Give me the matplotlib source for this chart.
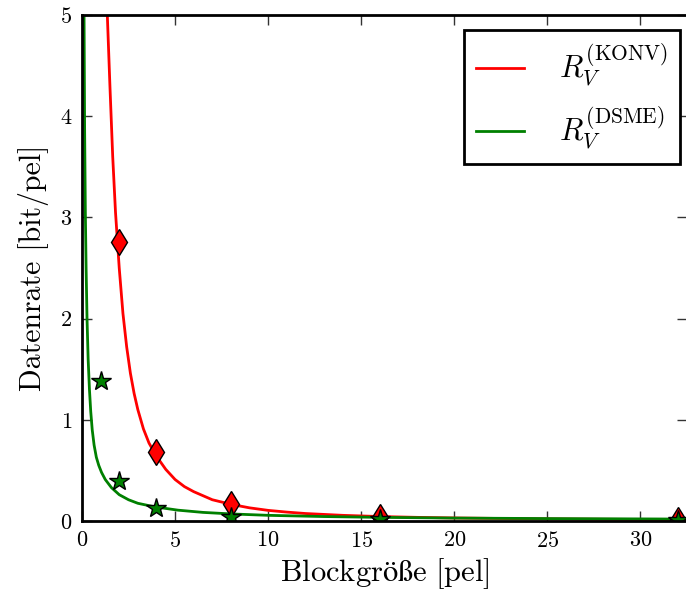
import matplotlib
matplotlib.use("Agg")
import matplotlib.pyplot as plt

plt.rcParams['font.family'] = ['cmr10', 'DejaVu Serif']
plt.rcParams['mathtext.fontset'] = 'cm'
plt.rcParams['axes.formatter.use_mathtext'] = True

# Data
konv_curve_x = [1.36, 1.5, 1.65, 1.8, 2.0, 2.2, 2.4, 2.6, 2.8, 3.0, 3.3, 3.6, 4.0, 4.5, 5.0,
                5.5, 6, 7, 8, 9, 10, 11, 12, 14, 16, 18, 20, 24, 28, 32.5]
konv_curve_y = [5.0, 4.3, 3.6, 3.05, 2.5, 2.05, 1.72, 1.46, 1.26, 1.1, 0.91, 0.77, 0.64, 0.51, 0.41,
                0.34, 0.29, 0.21, 0.165, 0.13, 0.105, 0.088, 0.074, 0.056, 0.044, 0.036, 0.03, 0.022, 0.017, 0.013]
dsme_curve_x = [0.11, 0.14, 0.18, 0.22, 0.27, 0.33, 0.4, 0.47, 0.55, 0.65, 0.77, 0.9, 1.05, 1.25,
                1.58, 2.0, 2.5, 3.0, 3.9, 5.16, 6.5, 8, 10, 13, 16, 20, 25, 32.5]
dsme_curve_y = [5.0, 3.9, 3.05, 2.5, 2.0, 1.6, 1.3, 1.08, 0.9, 0.75, 0.63, 0.55, 0.48, 0.41,
                0.33, 0.26, 0.21, 0.175, 0.14, 0.107, 0.085, 0.07, 0.056, 0.044, 0.036, 0.029, 0.024, 0.019]

konv_pts_x = [2, 4, 8, 16, 32]
konv_pts_y = [2.76, 0.68, 0.17, 0.035, 0.01]
dsme_pts_x = [1, 2, 4, 8, 16, 32]
dsme_pts_y = [1.38, 0.40, 0.13, 0.04, 0.015, 0.005]

xticks = [0, 5, 10, 15, 20, 25, 30]
yticks = [0, 1, 2, 3, 4, 5]

fig = plt.figure(figsize=(6.86, 5.94), dpi=100)
ax = fig.add_axes([82/686, (594-521)/594, (687-82)/686, (521-15)/594])

ax.plot(konv_curve_x, konv_curve_y, color='red', lw=2, label=r'$R_V^{(\mathrm{KONV})}$')
ax.plot(dsme_curve_x, dsme_curve_y, color='green', lw=2, label=r'$R_V^{(\mathrm{DSME})}$')
ax.plot(konv_pts_x, konv_pts_y, ls='none', marker='d', ms=13, color='red', mec='black', mew=1)
ax.plot(dsme_pts_x, dsme_pts_y, ls='none', marker='*', ms=15, color='green', mec='black', mew=1)

ax.set_xlim(0, 32.5)
ax.set_ylim(0, 5)
ax.set_xticks(xticks)
ax.set_yticks(yticks)
ax.tick_params(direction='in', length=7, width=1, top=True, right=True, labelsize=16, pad=7,
               color='#333333')
for s in ax.spines.values():
    s.set_linewidth(2)

ax.set_xlabel(r'$\mathrm{Blockgröße\ [pel]}$', fontsize=22, labelpad=4)
ax.set_ylabel('Datenrate [bit/pel]', fontsize=21.5, labelpad=8)

leg = ax.legend(loc='upper right', fontsize=22, fancybox=False, framealpha=1,
                edgecolor='black', borderpad=0.4, handlelength=1.55, labelspacing=0.5,
                handletextpad=1.15, borderaxespad=0, bbox_to_anchor=(0.988, 0.970))
leg.get_frame().set_linewidth(2)
for l in leg.get_lines():
    l.set_linewidth(2)

fig.savefig('out.png', dpi=100)
